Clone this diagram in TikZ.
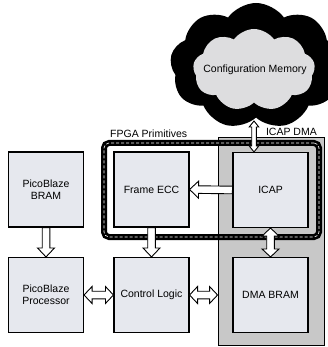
\documentclass[tikz,border=0pt]{standalone}
\usepackage{fontspec}
\setmainfont{Liberation Sans}
\usetikzlibrary{calc,shapes.symbols}
\definecolor{boxfill}{RGB}{230,232,238}
\definecolor{dmagray}{RGB}{200,200,200}
\definecolor{cloudgray}{RGB}{221,221,223}
\newcommand\fatone[5]{%
  \coordinate (faA) at #1;
  \coordinate (faB) at #2;
  \coordinate (faH) at ($(faB)!#5!(faA)$);
  \draw[fatarrow] ($(faA)!#3!90:(faB)$) -- ($(faH)!#3!-90:(faA)$) -- ($(faH)!#4!-90:(faA)$) -- (faB) -- ($(faH)!#4!90:(faA)$) -- ($(faH)!#3!90:(faA)$) -- ($(faA)!#3!-90:(faB)$) -- cycle;}
\newcommand\fattwo[5]{%
  \coordinate (faA) at #1;
  \coordinate (faB) at #2;
  \coordinate (faH) at ($(faA)!#5!(faB)$);
  \coordinate (faK) at ($(faB)!#5!(faA)$);
  \draw[fatarrow] (faA) -- ($(faH)!#4!90:(faB)$) -- ($(faH)!#3!90:(faB)$) -- ($(faK)!#3!-90:(faA)$) -- ($(faK)!#4!-90:(faA)$) -- (faB) -- ($(faK)!#4!90:(faA)$) -- ($(faK)!#3!90:(faA)$) -- ($(faH)!#3!-90:(faB)$) -- ($(faH)!#4!-90:(faB)$) -- cycle;}
\tikzset{
  fatarrow/.style={draw=black, fill=white, line width=0.9pt, line join=miter},
  blk/.style={draw=black, fill=boxfill, line width=1.1pt, minimum width=75pt, minimum height=75pt, inner sep=0pt, align=center},
  lbl/.style={inner sep=0pt},
}
\begin{document}
\begin{tikzpicture}[x=1pt, y=-1pt, font=\fontsize{10.5}{11.8}\selectfont]
\useasboundingbox (0,0) rectangle (327,347);
% ICAP DMA region
\node[draw=black, fill=dmagray, line width=0.9pt, minimum width=106pt, minimum height=208pt, inner sep=0pt] (dma) at (271,241) {};
% cloud
\node[cloud, cloud puffs=9, cloud puff arc=110, cloud ignores aspect, fill=black, minimum width=172pt, minimum height=126pt, inner sep=0pt] (cloudout) at (256,66) {};
\node[cloud, cloud puffs=9, cloud puff arc=110, cloud ignores aspect, fill=cloudgray, minimum width=122pt, minimum height=82pt, inner sep=0pt] (cloudin) at (254,70) {};
\node[lbl] (cmtext) at (255,70) {Configuration Memory};
% blocks
\node[blk] (bram) at (46,189.5) {PicoBlaze\\BRAM};
\node[blk] (proc) at (46,295) {PicoBlaze\\Processor};
\node[blk] (ecc) at (151.5,189.5) {Frame ECC};
\node[blk] (ctrl) at (151.5,295) {Control Logic};
\node[blk] (icap) at (270.5,190) {ICAP};
\node[blk] (dmab) at (270.5,295) {DMA BRAM};
% FPGA primitives border
\node[draw=black, line width=6pt, rounded corners=5pt, minimum width=215pt, minimum height=94pt, inner sep=0pt,
  postaction={draw=white, line width=0.6pt, dash pattern=on 3pt off 2pt}] (fpga) at (211.5,190) {};
% labels
\node[lbl, anchor=base west] (fpgalbl) at (110,138) {FPGA Primitives};
\node[lbl, anchor=base east] (dmalbl) at (317,136) {ICAP DMA};
% arrows
\coordinate (cmport) at (254,121);
\fattwo{(cmport)}{(icap.north -| cmport)}{2.3pt}{4.8pt}{6pt}
\fatone{(bram.south)}{(proc.north)}{3.8pt}{8.5pt}{9pt}
\fatone{(ecc.south)}{(ctrl.north)}{3.8pt}{8.5pt}{9pt}
\fatone{(icap.west)}{(ecc.east)}{3.8pt}{8.5pt}{9pt}
\fattwo{(icap.south)}{(dmab.north)}{3.8pt}{8.5pt}{8pt}
\fattwo{(proc.east)}{(ctrl.west)}{3.8pt}{8.5pt}{8pt}
\fattwo{(ctrl.east)}{(ctrl.east -| dma.west)}{3.8pt}{8.5pt}{8pt}
\end{tikzpicture}
\end{document}
